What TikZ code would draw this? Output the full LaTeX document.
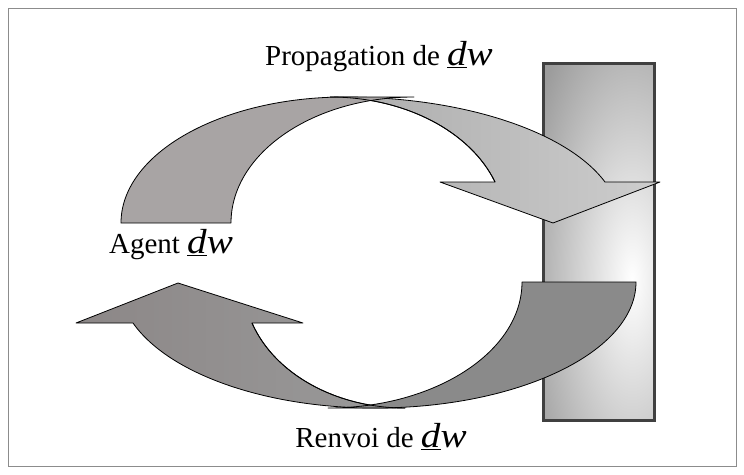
\documentclass[tikz,border=0pt]{standalone}
\usepackage{fontspec}
\setmainfont{Liberation Serif}
\definecolor{topleft}{HTML}{A8A4A4}
\definecolor{topheadL}{HTML}{ABABAB}
\definecolor{topheadR}{HTML}{CDCDCD}
\definecolor{botheadL}{HTML}{8C8787}
\definecolor{botheadR}{HTML}{9A9A9A}
\definecolor{botright}{HTML}{8A8A8A}
\definecolor{boxgray}{HTML}{9C9C9C}
\definecolor{boxedge}{HTML}{404040}
\definecolor{framegray}{HTML}{8C8C8C}
\newcommand\dwlabel{\scalebox{1.35}[1.2]{\itshape\underline{d}w}}
\tikzset{
  band/.style={draw=black, line width=0.8pt, line join=round},
  edge/.style={draw=black, line width=0.8pt},
  lbl/.style={anchor=base, inner sep=0pt, font=\fontsize{29}{32}\selectfont}
}
\begin{document}
\begin{tikzpicture}[x=1pt,y=-1pt]
\useasboundingbox (0,0) rectangle (744,474);
% outer frame
\draw[framegray, line width=1pt] (8,8) rectangle (736,466);
% shaded box
\begin{scope}
  \clip (543,63) rectangle (654,420);
  \fill[boxgray] (543,63) rectangle (654,420);
  \shade[inner color=white, outer color=boxgray] (632,280) ellipse [x radius=115, y radius=300];
\end{scope}
\draw[boxedge, line width=3pt] (543,63) rectangle (654,420);
% top arrow: head part
\shadedraw[band, left color=topheadL, right color=topheadR]
  (330,97) -- (345,97) .. controls (462.4,97) and (566.8,131.1) .. (605,182)
  -- (660,182) -- (553,223) -- (440,182) -- (495,182)
  .. controls (470.3,131.1) and (404.3,97) .. (330,97) -- cycle;
% top arrow: tail part
\filldraw[band, fill=topleft]
  (121,223) .. controls (121,153.4) and (221.3,97) .. (345,97) -- (414,97)
  .. controls (312.9,97) and (231,153.4) .. (231,223) -- cycle;
\draw[edge] (495,182) .. controls (470.3,131.1) and (404.3,97) .. (330,97);
% bottom arrow: head part
\shadedraw[band, left color=botheadL, right color=botheadR]
  (405,408) -- (375,408) .. controls (265.7,408) and (168.6,373.9) .. (133,323)
  -- (76,323) -- (178,283) -- (303,323) -- (252,323)
  .. controls (274.5,373.9) and (335.8,408) .. (405,408) -- cycle;
% bottom arrow: tail part
\filldraw[band, fill=botright]
  (636,282) .. controls (636,351.6) and (519.1,408) .. (375,408) -- (328,408)
  .. controls (435.1,408) and (522,351.6) .. (522,282) -- cycle;
\draw[edge] (252,323) .. controls (274.5,373.9) and (335.8,408) .. (405,408);
% labels
\node[lbl] (prop) at (379,65) {Propagation de \dwlabel};
\node[lbl] (agent) at (171,253) {Agent \dwlabel};
\node[lbl] (renvoi) at (381,447) {Renvoi de \dwlabel};
\end{tikzpicture}
\end{document}
